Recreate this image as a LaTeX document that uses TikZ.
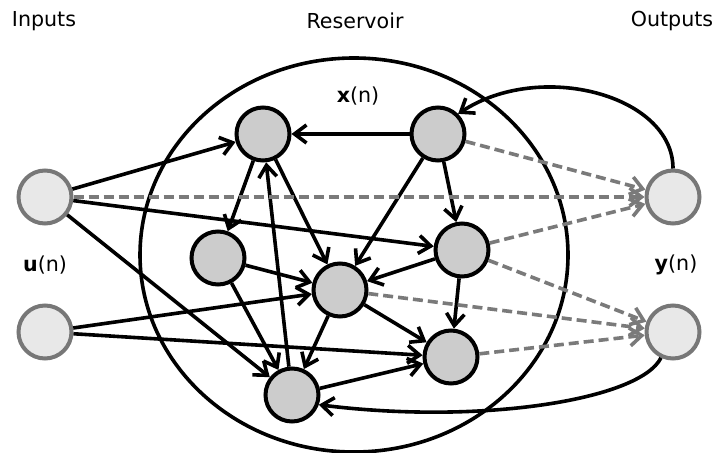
\documentclass[tikz,border=0pt]{standalone}
\usepackage{fontspec}
\setmainfont{DejaVu Sans}
\usetikzlibrary{arrows.meta}
\definecolor{resgray}{HTML}{CCCCCC}
\definecolor{iofill}{HTML}{E8E8E8}
\definecolor{iogray}{HTML}{777777}
\definecolor{dashgray}{HTML}{7A7A7A}
\begin{document}
\begin{tikzpicture}[x=0.5pt, y=-0.5pt,
    unit/.style={circle, draw, line width=2pt, fill=resgray, minimum size=26.5pt, inner sep=0pt},
    io/.style={circle, draw=iogray, line width=2pt, fill=iofill, minimum size=26.5pt, inner sep=0pt},
    conn/.style={-{Straight Barb[length=6pt,width=9pt]}, line width=1.8pt},
    readout/.style={conn, draw=dashgray, dash pattern=on 5pt off 2.5pt},
    lbl/.style={font=\fontsize{10.3}{12}\selectfont}]
        \useasboundingbox (0,0) rectangle (716,453);
        % Titoli
        \node[lbl] (tin) at (44,21) {Inputs};
        \node[lbl] (tres) at (355,21) {Reservoir};
        \node[lbl] (tout) at (672,21) {Outputs};
        
        % Reservoir
        \draw[line width=1.8pt] (354,255) ellipse [x radius=214, y radius=197];
        \node[lbl] (xn) at (358,96) {\textbf{x}(n)};
        \node[unit] (A) at (263,134) {};
        \node[unit] (B) at (438,134) {};
        \node[unit] (C) at (218,258) {};
        \node[unit] (D) at (340,290) {};
        \node[unit] (E) at (462,250) {};
        \node[unit] (F) at (451,357) {};
        \node[unit] (G) at (292,395) {};
        
        % Ingressi e uscite
        \node[io] (u1) at (45,197) {};
        \node[io] (u2) at (45,332) {};
        \node[lbl] (un) at (45,265) {\textbf{u}(n)};
        \node[io] (y1) at (673,197) {};
        \node[io] (y2) at (673,332) {};
        \node[lbl] (yn) at (676,265) {\textbf{y}(n)};
        
        % Connessioni di ingresso
        \draw[conn] (u1) -- (A);
        \draw[conn] (u1) -- (E);
        \draw[conn] (u1) -- (G);
        \draw[conn] (u2) -- (D);
        \draw[conn] (u2) -- (F);
        
        % Connessioni interne
        \draw[conn] (B) -- (A);
        \draw[conn] (A) -- (C);
        \draw[conn] (A) -- (D);
        \draw[conn] (G) -- (A);
        \draw[conn] (B) -- (D);
        \draw[conn] (B) -- (E);
        \draw[conn] (C) -- (D);
        \draw[conn] (C) -- (G);
        \draw[conn] (E) -- (D);
        \draw[conn] (E) -- (F);
        \draw[conn] (D) -- (F);
        \draw[conn] (D) -- (G);
        \draw[conn] (G) -- (F);
        
        % Lettura
        \draw[readout] (u1) -- (y1);
        \draw[readout] (B) -- (y1);
        \draw[readout] (E) -- (y1);
        \draw[readout] (E) -- (y2);
        \draw[readout] (D) -- (y2);
        \draw[readout] (F) -- (y2);
        
        % Retroazione
        \draw[conn] (y1.north) .. controls (673,95) and (540,60) .. (B.45);
        \draw[conn] (y2.245) .. controls (640,400) and (480,425) .. (G.-20);
    \end{tikzpicture}
\end{document}
